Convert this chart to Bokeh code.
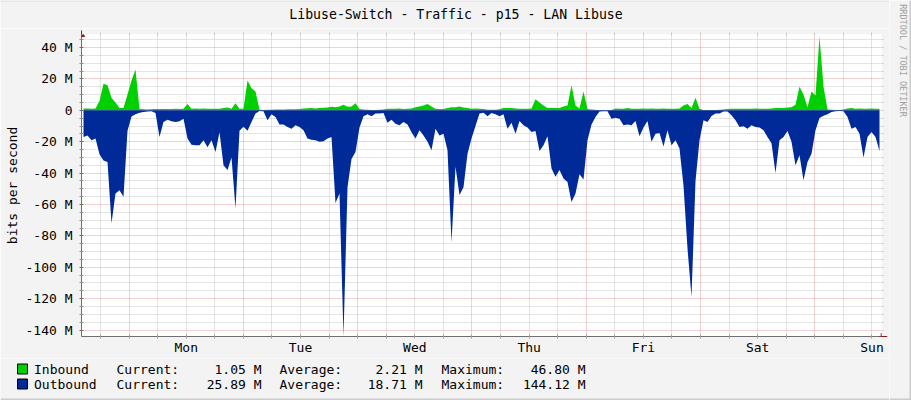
import numpy as np
from bokeh.plotting import figure
from bokeh.layouts import column, row
from bokeh.models import (FixedTicker, Range1d, Arrow, NormalHead, ColumnDataSource,
                          Label, LinearAxis)
from bokeh.embed import file_html
from bokeh.resources import INLINE

# ---- data (Mbit/s), one sample every 0.84 h, graph starts Sunday 14:00 ----
inbound = [
    1.2, 1.2, 1.0, 1.2, 6, 17, 16, 8, 5, 1.5,
    1.5, 10, 19, 26, 0.8, 0.6, 0.5, 0.6, 0.8, 0.8,
    0.8, 0.8, 0.8, 1.0, 0.9, 1.0, 4, 1.0, 1.2, 1.0,
    1.2, 1.0, 1.0, 1.0, 1.0, 1.5, 1.8, 1.0, 4.5, 1.0,
    1.0, 19, 14, 12, 0.3, 0.2, 0.3, 0.4, 0.5, 0.5,
    0.5, 0.7, 0.7, 0.6, 0.8, 1.2, 1.3, 1.4, 1.2, 1.4,
    1.6, 1.8, 2.2, 2.0, 2.5, 3.5, 2.2, 2.5, 4.5, 0.8,
    0.5, 0.4, 0.2, 0.2, 0.3, 0.5, 1.0, 1.0, 1.0, 1.2,
    0.8, 1.0, 1.2, 2.0, 2.5, 3.0, 4.0, 2.5, 1.0, 0.8,
    0.9, 1.5, 2.0, 2.0, 2.5, 1.8, 1.5, 1.0, 1.2, 1.0,
    0.8, 0.4, 0.4, 0.4, 0.6, 1.5, 1.5, 1.5, 1.2, 1.0,
    1.0, 1.0, 1.2, 7.0, 5.0, 3.0, 1.5, 1.5, 1.5, 1.5,
    2.5, 3.0, 16, 3.0, 1.2, 12, 0.8, 0.5, 0.4, 0.1,
    0.1, 0.1, 0.2, 1.2, 1.0, 1.0, 1.5, 1.0, 1.0, 1.0,
    1.2, 1.0, 1.2, 1.0, 1.0, 1.2, 1.0, 1.0, 1.0, 1.2,
    3.0, 4, 1.5, 8, 1.0, 0.2, 0.2, 0.2, 0.2, 0.3,
    0.5, 0.8, 1.0, 1.0, 1.0, 1.0, 1.0, 1.0, 1.2, 1.0,
    1.0, 1.0, 1.2, 1.5, 1.5, 1.5, 1.8, 2.0, 3.5, 15,
    10, 2, 12, 9.5, 46.8, 15, 0.5, 0.3, 0.2, 0.2,
    0.5, 1.2, 1.5, 1.0, 1.2, 1.0, 1.0, 1.2, 1.0, 1.05,
]
outbound = [
    17, 16, 19, 18, 28, 32, 33, 72, 53, 51,
    55, 13, 4, 2.5, 1.5, 1, 0.8, 0.6, 1.7, 17,
    7.5, 6, 7, 7.5, 7, 5.3, 18, 22, 22.3, 22.3,
    19, 23.5, 19, 26.5, 14, 35, 38, 30, 62.5, 13,
    10.5, 13, 7.5, 2, 0.5, 0.6, 6.4, 2.5, 4.2, 9,
    9, 10.6, 11.7, 9.5, 10.6, 12.7, 18, 18.7, 19, 20,
    19.7, 18, 17, 59, 53, 144.1, 49, 31, 26.5, 11,
    3.8, 2.5, 3.8, 2.1, 2.1, 1.7, 8, 6, 8.5, 9.5,
    7.4, 9, 14, 18, 12.7, 16, 20, 25.5, 11.7, 16,
    15, 25.5, 84, 36, 54, 49, 27.6, 18, 10, 2,
    1.5, 3.8, 1.7, 2.5, 3.8, 2.5, 11.7, 8, 15, 6.8,
    9.5, 11, 13.8, 13.2, 26, 22.3, 16.5, 37, 42.4, 38,
    43.5, 45.6, 58.4, 53, 40.7, 44, 19, 9, 4.2, 0.8,
    0.6, 0.6, 5.3, 4.7, 5.3, 9.5, 9, 9.5, 6.8, 16.5,
    11, 6.8, 20, 15, 14.4, 23, 12.7, 22.3, 19, 24.4,
    48, 88, 119, 45, 19, 6.4, 7.4, 3.6, 2.1, 2.1,
    0.8, 0.8, 3.2, 6.4, 10.6, 10.2, 11.7, 9.5, 10.6, 11,
    12.7, 17, 21, 40, 19, 17, 13.2, 20, 35, 28.6,
    44.6, 33, 27.6, 12.7, 4.9, 3.4, 2.5, 1, 0.6, 0.4,
    0.6, 4.2, 11.7, 10.6, 15, 30, 17, 13.8, 17, 25.9,
]
day_labels = ["Mon", "Tue", "Wed", "Thu", "Fri", "Sat", "Sun"]
y_tick_values = [40, 20, 0, -20, -40, -60, -80, -100, -120, -140]
y_tick_labels = ["40 M", "20 M", "0", "-20 M", "-40 M", "-60 M", "-80 M", "-100 M", "-120 M", "-140 M"]
legend_names = ["Inbound", "Outbound"]
legend_current = ["1.05 M", "25.89 M"]
legend_average = ["2.21 M", "18.71 M"]
legend_maximum = ["46.80 M", "144.12 M"]
colors = ["#00CF00", "#002A97"]
title_text = "Libuse-Switch - Traffic - p15 - LAN Libuse"
credit_text = "RRDTOOL / TOBI OETIKER"

STEP_H = 0.84
hours = (np.arange(len(inbound)) + 0.5) * STEP_H
src = ColumnDataSource(dict(t=hours, inb=np.array(inbound, float),
                            outb=-np.array(outbound, float), zero=np.zeros(len(hours))))

X0, X1 = 0.0, 168.0
Y0, Y1 = -144.1, 48.3
FONT = "DejaVu Sans Mono"
W_MAIN, W_RIGHT = 889, 22
H_TOP, H_MAIN, H_LEG = 28, 330, 42
H_ALL = H_TOP + H_MAIN + H_LEG
BG = "#F3F3F3"
RED_GRID = "#E8A0A0"
GREY_GRID = "#C8C8C8"


def strip(w, h):
    f = figure(width=w, height=h, output_backend="svg", toolbar_location=None,
               x_range=Range1d(0, w), y_range=Range1d(h, 0),
               x_axis_location=None, y_axis_location=None, min_border=0,
               background_fill_color=BG, border_fill_color=BG, title_location=None)
    f.outline_line_color = None
    f.grid.visible = False
    f.frame_align = False
    return f


# ---- main chart ----
p = figure(width=W_MAIN, height=H_MAIN, output_backend="svg", toolbar_location=None,
           x_range=Range1d(X0, X1), y_range=Range1d(Y0, Y1),
           min_border_left=81, min_border_right=8, min_border_top=6, min_border_bottom=22,
           background_fill_color="#FFFFFF", border_fill_color=BG,
           title_location=None)
p.outline_line_color = None
p.frame_align = False

p.varea(x="t", y1="zero", y2="inb", source=src, fill_color=colors[0])
p.varea(x="t", y1="outb", y2="zero", source=src, fill_color=colors[1])

midnights = [10 + 24 * k for k in range(7)]
noons = [22 + 24 * k for k in range(7)]
six_h = [h for h in range(4, 169, 6) if h not in midnights]
y_minor = [v for v in range(-140, 46, 5) if v not in y_tick_values]

# bottom x axis: day names at noon
p.xaxis.ticker = FixedTicker(ticks=noons, minor_ticks=six_h + midnights)
p.xaxis.major_label_overrides = {n: d for n, d in zip(noons, day_labels)}
p.xaxis.major_tick_in = 0
p.xaxis.major_tick_out = 0
p.xaxis.minor_tick_in = 2
p.xaxis.minor_tick_out = 2
p.xaxis.minor_tick_line_color = "#A0A0A0"
p.xaxis.axis_line_color = "#707070"
p.xaxis.major_label_standoff = 1
p.xaxis.major_label_text_font = FONT
p.xaxis.major_label_text_font_size = "13px"
p.xaxis.major_label_text_color = "#000000"

p.xgrid.ticker = FixedTicker(ticks=midnights, minor_ticks=six_h)
p.xgrid.grid_line_color = RED_GRID
p.xgrid.grid_line_dash = "1 1"
p.xgrid.minor_grid_line_color = GREY_GRID
p.xgrid.minor_grid_line_dash = "1 1"

# left y axis
p.yaxis.ticker = FixedTicker(ticks=y_tick_values, minor_ticks=y_minor)
p.yaxis.major_label_overrides = {v: s for v, s in zip(y_tick_values, y_tick_labels)}
p.yaxis.major_tick_in = 2
p.yaxis.major_tick_out = 2
p.yaxis.minor_tick_in = 2
p.yaxis.minor_tick_out = 2
p.yaxis.major_tick_line_color = "#707070"
p.yaxis.minor_tick_line_color = "#909090"
p.yaxis.axis_line_color = "#707070"
p.yaxis.major_label_standoff = 7
p.yaxis.major_label_text_font = FONT
p.yaxis.major_label_text_font_size = "13px"
p.yaxis.major_label_text_color = "#000000"
p.yaxis.axis_label = "bits per second"
p.yaxis.axis_label_text_font = FONT
p.yaxis.axis_label_text_font_size = "13px"
p.yaxis.axis_label_text_font_style = "normal"
p.yaxis.axis_label_text_color = "#000000"
p.yaxis.axis_label_standoff = 3
p.ygrid.grid_line_color = RED_GRID
p.ygrid.grid_line_dash = "1 1"
p.ygrid.minor_grid_line_color = GREY_GRID
p.ygrid.minor_grid_line_dash = "1 1"

# top and right tick-only axes (grid-end ticks, as in the original); no labels
top_axis = LinearAxis(ticker=FixedTicker(ticks=[], minor_ticks=six_h + midnights),
                      major_tick_in=0, major_tick_out=0, minor_tick_in=1, minor_tick_out=2,
                      major_tick_line_color=None, minor_tick_line_color=GREY_GRID,
                      axis_line_color=None)
p.add_layout(top_axis, "above")
right_axis = LinearAxis(ticker=FixedTicker(ticks=[], minor_ticks=y_minor + y_tick_values),
                        major_tick_in=0, major_tick_out=0, minor_tick_in=0, minor_tick_out=2,
                        major_tick_line_color=None, minor_tick_line_color=GREY_GRID,
                        axis_line_color=None)
p.add_layout(right_axis, "right")

# axis arrows
p.add_layout(Arrow(end=NormalHead(size=6, fill_color="#7F1A1A", line_color="#7F1A1A"),
                   x_start=X0, y_start=Y1, x_end=X0, y_end=Y1 + 2.5,
                   line_color="#7F1A1A", line_width=1))
p.add_layout(Arrow(end=NormalHead(size=6, fill_color="#7F1A1A", line_color="#7F1A1A"),
                   x_start=X1 - 0.5, y_start=Y0, x_end=X1 + 1.2, y_end=Y0,
                   line_color="#7F1A1A", line_width=1))

# ---- title strip (pixel coordinates, y downwards) ----
top = strip(W_MAIN, H_TOP)
top.quad(left=[0], right=[W_MAIN], top=[0], bottom=[1], fill_color="#DADADA", line_color=None)
top.add_layout(Label(x=455.5, y=14, text=title_text, text_align="center", text_baseline="middle",
                     text_font=FONT, text_font_size="13.2px", text_color="#000000"))

# ---- legend strip ----
leg = strip(W_MAIN, H_LEG)
rows_y = [10.5, 25.5]
leg.quad(left=[17, 17], right=[27, 27], top=[y - 5 for y in rows_y], bottom=[y + 5 for y in rows_y],
         fill_color=colors, line_color="#000000", line_width=1)
leg.quad(left=[0], right=[W_MAIN], top=[H_LEG - 2], bottom=[H_LEG], fill_color="#CBCBCB", line_color=None)


def lab(text, px, py, align="left"):
    leg.add_layout(Label(x=px, y=py, text=text, text_align=align, text_baseline="middle",
                         text_font=FONT, text_font_size="13px", text_color="#000000"))


for i in range(2):
    ry = rows_y[i]
    lab(legend_names[i], 33.5, ry)
    lab("Current:", 116, ry)
    lab(legend_current[i], 261, ry, align="right")
    lab("Average:", 279, ry)
    lab(legend_average[i], 422, ry, align="right")
    lab("Maximum:", 441, ry)
    lab(legend_maximum[i], 585, ry, align="right")

# ---- right strip with the vertical credit text ----
rs = strip(W_RIGHT, H_ALL)
rs.quad(left=[W_RIGHT - 2], right=[W_RIGHT], top=[0], bottom=[H_ALL], fill_color="#CBCBCB", line_color=None)
rs.quad(left=[0], right=[W_RIGHT], top=[H_ALL - 2], bottom=[H_ALL], fill_color="#CBCBCB", line_color=None)
rs.add_layout(Label(x=13.5, y=60, text=credit_text, text_align="center", text_baseline="middle",
                    text_font=FONT, text_font_size="8.5px", text_color="#A0A0A0",
                    angle=-np.pi / 2))

layout = row(column(top, p, leg, spacing=0), rs, spacing=0)
open("out.html", "w").write(file_html(layout, INLINE))
